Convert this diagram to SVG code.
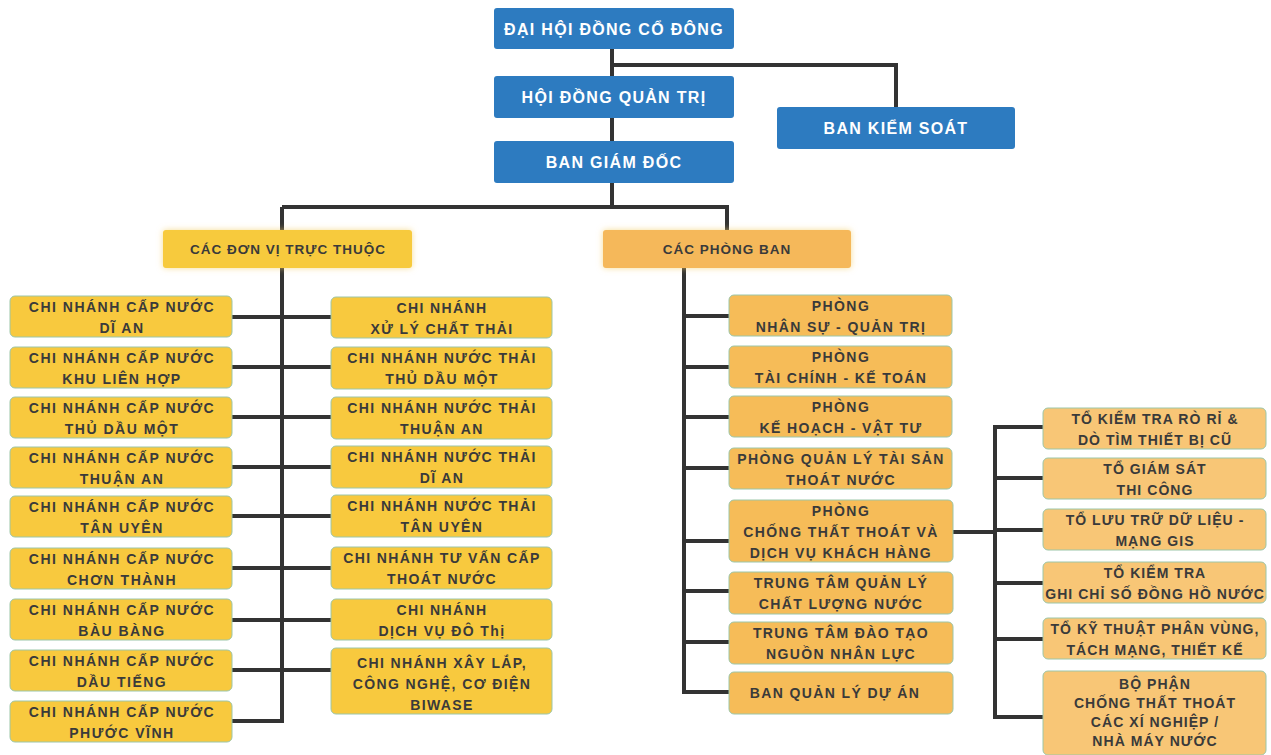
<svg xmlns="http://www.w3.org/2000/svg" width="1271" height="755" viewBox="0 0 1271 755">
<defs>
<filter id="glow" x="-10%" y="-30%" width="120%" height="160%">
<feDropShadow dx="0" dy="0" stdDeviation="3" flood-color="#f3cf6a" flood-opacity="0.7"/>
</filter>
<style>
.blue{fill:#2d7bc0;}
.unit{fill:#f8c93e;stroke:#9cc6a8;stroke-width:1;}
.room{fill:#f6bc58;stroke:#9cc6a8;stroke-width:1;}
.team{fill:#f8c676;stroke:#9cc6a8;stroke-width:1;}
.hdrL{fill:#f7ca3c;}
.hdrR{fill:#f5b85a;}
text{font-family:"Liberation Sans",Arial,sans-serif;font-weight:bold;text-anchor:middle;}
.tb{fill:#ffffff;font-size:16px;letter-spacing:1.3px;}
.th{fill:#3a3a3a;font-size:13.5px;letter-spacing:1px;}
.tu{fill:#3a3a3a;font-size:14px;letter-spacing:1.5px;}
.tr{fill:#3a3a3a;font-size:14px;letter-spacing:1.4px;}
.tt{fill:#3a3a3a;font-size:14px;letter-spacing:1.05px;}
.ln{fill:none;stroke:#333333;stroke-width:4;}
</style>
</defs>
<rect width="1271" height="755" fill="#ffffff"/>
<g id="connectors" class="ln">
<path d="M612 49 V207"/>
<path d="M612 65 H896 V108"/>
<path d="M282 207 H727 V230"/>
<path d="M282 207 V230"/>
<path d="M282 268 V723"/>
<path d="M232 317 H331"/>
<path d="M232 367 H331"/>
<path d="M232 417 H331"/>
<path d="M232 467 H331"/>
<path d="M232 516 H331"/>
<path d="M232 568 H331"/>
<path d="M232 620 H331"/>
<path d="M232 670 H331"/>
<path d="M232 721 H284"/>
<path d="M684 268 V694"/>
<path d="M684 316 H729"/>
<path d="M684 367 H729"/>
<path d="M684 417 H729"/>
<path d="M684 468 H729"/>
<path d="M684 541 H729"/>
<path d="M684 591 H729"/>
<path d="M684 642 H729"/>
<path d="M682 692 H729"/>
<path d="M953 532 H995"/>
<path d="M995 426 V719"/>
<path d="M993 427 H1043"/>
<path d="M995 478 H1043"/>
<path d="M995 530 H1043"/>
<path d="M995 583 H1043"/>
<path d="M995 639 H1043"/>
<path d="M993 717 H1043"/>
</g>
<g id="n-dhdcd"><rect class="blue" x="494" y="8" width="240" height="41" rx="3"/><text class="tb" x="614" y="35">ĐẠI HỘI ĐỒNG CỔ ĐÔNG</text></g>
<g id="n-hdqt"><rect class="blue" x="494" y="76" width="240" height="42" rx="3"/><text class="tb" x="614" y="103">HỘI ĐỒNG QUẢN TRỊ</text></g>
<g id="n-bks"><rect class="blue" x="777" y="107" width="238" height="42" rx="3"/><text class="tb" x="896" y="134">BAN KIỂM SOÁT</text></g>
<g id="n-bgd"><rect class="blue" x="494" y="141" width="240" height="42" rx="3"/><text class="tb" x="614" y="168">BAN GIÁM ĐỐC</text></g>
<g id="n-dvtt"><rect class="hdrL" x="163" y="230" width="249" height="38" rx="3" filter="url(#glow)"/><text class="th" x="288" y="254">CÁC ĐƠN VỊ TRỰC THUỘC</text></g>
<g id="n-pb"><rect class="hdrR" x="603" y="230" width="248" height="38" rx="3" filter="url(#glow)"/><text class="th" x="727" y="254">CÁC PHÒNG BAN</text></g>
<g id="n-l1"><rect class="unit" x="10" y="296" width="222" height="41" rx="5"/><text class="tu" x="122" y="312">CHI NHÁNH CẤP NƯỚC</text><text class="tu" x="122" y="333">DĨ AN</text></g>
<g id="n-l2"><rect class="unit" x="10" y="347" width="222" height="41" rx="5"/><text class="tu" x="122" y="363">CHI NHÁNH CẤP NƯỚC</text><text class="tu" x="122" y="384">KHU LIÊN HỢP</text></g>
<g id="n-l3"><rect class="unit" x="10" y="397" width="222" height="41" rx="5"/><text class="tu" x="122" y="413">CHI NHÁNH CẤP NƯỚC</text><text class="tu" x="122" y="434">THỦ DẦU MỘT</text></g>
<g id="n-l4"><rect class="unit" x="10" y="447" width="222" height="41" rx="5"/><text class="tu" x="122" y="463">CHI NHÁNH CẤP NƯỚC</text><text class="tu" x="122" y="484">THUẬN AN</text></g>
<g id="n-l5"><rect class="unit" x="10" y="496" width="222" height="41" rx="5"/><text class="tu" x="122" y="512">CHI NHÁNH CẤP NƯỚC</text><text class="tu" x="122" y="533">TÂN UYÊN</text></g>
<g id="n-l6"><rect class="unit" x="10" y="548" width="222" height="41" rx="5"/><text class="tu" x="122" y="564">CHI NHÁNH CẤP NƯỚC</text><text class="tu" x="122" y="585">CHƠN THÀNH</text></g>
<g id="n-l7"><rect class="unit" x="10" y="599" width="222" height="41" rx="5"/><text class="tu" x="122" y="615">CHI NHÁNH CẤP NƯỚC</text><text class="tu" x="122" y="636">BÀU BÀNG</text></g>
<g id="n-l8"><rect class="unit" x="10" y="650" width="222" height="41" rx="5"/><text class="tu" x="122" y="666">CHI NHÁNH CẤP NƯỚC</text><text class="tu" x="122" y="687">DẦU TIẾNG</text></g>
<g id="n-l9"><rect class="unit" x="10" y="701" width="222" height="41" rx="5"/><text class="tu" x="122" y="717">CHI NHÁNH CẤP NƯỚC</text><text class="tu" x="122" y="738">PHƯỚC VĨNH</text></g>
<g id="n-r1"><rect class="unit" x="331" y="297" width="221" height="41" rx="5"/><text class="tr" x="442" y="313">CHI NHÁNH</text><text class="tr" x="442" y="334">XỬ LÝ CHẤT THẢI</text></g>
<g id="n-r2"><rect class="unit" x="331" y="347" width="221" height="42" rx="5"/><text class="tr" x="442" y="363">CHI NHÁNH NƯỚC THẢI</text><text class="tr" x="442" y="384">THỦ DẦU MỘT</text></g>
<g id="n-r3"><rect class="unit" x="331" y="397" width="221" height="42" rx="5"/><text class="tr" x="442" y="413">CHI NHÁNH NƯỚC THẢI</text><text class="tr" x="442" y="434">THUẬN AN</text></g>
<g id="n-r4"><rect class="unit" x="331" y="446" width="221" height="42" rx="5"/><text class="tr" x="442" y="462">CHI NHÁNH NƯỚC THẢI</text><text class="tr" x="442" y="483">DĨ AN</text></g>
<g id="n-r5"><rect class="unit" x="331" y="495" width="221" height="42" rx="5"/><text class="tr" x="442" y="511">CHI NHÁNH NƯỚC THẢI</text><text class="tr" x="442" y="532">TÂN UYÊN</text></g>
<g id="n-r6"><rect class="unit" x="331" y="547" width="221" height="42" rx="5"/><text class="tr" x="442" y="563">CHI NHÁNH TƯ VẤN CẤP</text><text class="tr" x="442" y="584">THOÁT NƯỚC</text></g>
<g id="n-r7"><rect class="unit" x="331" y="599" width="221" height="41" rx="5"/><text class="tr" x="442" y="615">CHI NHÁNH</text><text class="tr" x="442" y="636">DỊCH VỤ ĐÔ Thị</text></g>
<g id="n-r8"><rect class="unit" x="331" y="648" width="221" height="66" rx="5"/><text class="tr" x="442" y="668">CHI NHÁNH XÂY LẮP,</text><text class="tr" x="442" y="689">CÔNG NGHỆ, CƠ ĐIỆN</text><text class="tr" x="442" y="710">BIWASE</text></g>
<g id="n-p1"><rect class="room" x="729" y="295" width="223" height="41" rx="5"/><text class="tr" x="841" y="311">PHÒNG</text><text class="tr" x="841" y="332">NHÂN SỰ - QUẢN TRỊ</text></g>
<g id="n-p2"><rect class="room" x="729" y="346" width="223" height="42" rx="5"/><text class="tr" x="841" y="362">PHÒNG</text><text class="tr" x="841" y="383">TÀI CHÍNH - KẾ TOÁN</text></g>
<g id="n-p3"><rect class="room" x="729" y="396" width="223" height="41" rx="5"/><text class="tr" x="841" y="412">PHÒNG</text><text class="tr" x="841" y="433">KẾ HOẠCH - VẬT TƯ</text></g>
<g id="n-p4"><rect class="room" x="729" y="448" width="223" height="41" rx="5"/><text class="tr" x="841" y="464">PHÒNG QUẢN LÝ TÀI SẢN</text><text class="tr" x="841" y="485">THOÁT NƯỚC</text></g>
<g id="n-p5"><rect class="room" x="729" y="500" width="224" height="62" rx="5"/><text class="tr" x="841" y="516">PHÒNG</text><text class="tr" x="841" y="537">CHỐNG THẤT THOÁT VÀ</text><text class="tr" x="841" y="558">DỊCH VỤ KHÁCH HÀNG</text></g>
<g id="n-p6"><rect class="room" x="729" y="572" width="224" height="42" rx="5"/><text class="tr" x="841" y="588">TRUNG TÂM QUẢN LÝ</text><text class="tr" x="841" y="609">CHẤT LƯỢNG NƯỚC</text></g>
<g id="n-p7"><rect class="room" x="729" y="622" width="224" height="42" rx="5"/><text class="tr" x="841" y="638">TRUNG TÂM ĐÀO TẠO</text><text class="tr" x="841" y="659">NGUỒN NHÂN LỰC</text></g>
<g id="n-p8"><rect class="room" x="729" y="672" width="224" height="42" rx="5"/><text class="tr" x="835" y="698">BAN QUẢN LÝ DỰ ÁN</text></g>
<g id="n-t1"><rect class="team" x="1043" y="408" width="223" height="41" rx="5"/><text class="tt" x="1155" y="424">TỔ KIỂM TRA RÒ RỈ &amp;</text><text class="tt" x="1155" y="445">DÒ TÌM THIẾT BỊ CŨ</text></g>
<g id="n-t2"><rect class="team" x="1043" y="458" width="223" height="41" rx="5"/><text class="tt" x="1155" y="474">TỔ GIÁM SÁT</text><text class="tt" x="1155" y="495">THI CÔNG</text></g>
<g id="n-t3"><rect class="team" x="1043" y="509" width="223" height="41" rx="5"/><text class="tt" x="1155" y="525">TỔ LƯU TRỮ DỮ LIỆU -</text><text class="tt" x="1155" y="546">MẠNG GIS</text></g>
<g id="n-t4"><rect class="team" x="1043" y="562" width="223" height="41" rx="5"/><text class="tt" x="1155" y="578">TỔ KIỂM TRA</text><text class="tt" x="1155" y="599">GHI CHỈ SỐ ĐỒNG HỒ NƯỚC</text></g>
<g id="n-t5"><rect class="team" x="1043" y="618" width="223" height="41" rx="5"/><text class="tt" x="1155" y="634">TỔ KỸ THUẬT PHÂN VÙNG,</text><text class="tt" x="1155" y="655">TÁCH MẠNG, THIẾT KẾ</text></g>
<g id="n-t6"><rect class="team" x="1043" y="671" width="223" height="84" rx="5"/><text class="tt" x="1155" y="689">BỘ PHẬN</text><text class="tt" x="1155" y="708">CHỐNG THẤT THOÁT</text><text class="tt" x="1155" y="727">CÁC XÍ NGHIỆP /</text><text class="tt" x="1155" y="746">NHÀ MÁY NƯỚC</text></g>
</svg>
